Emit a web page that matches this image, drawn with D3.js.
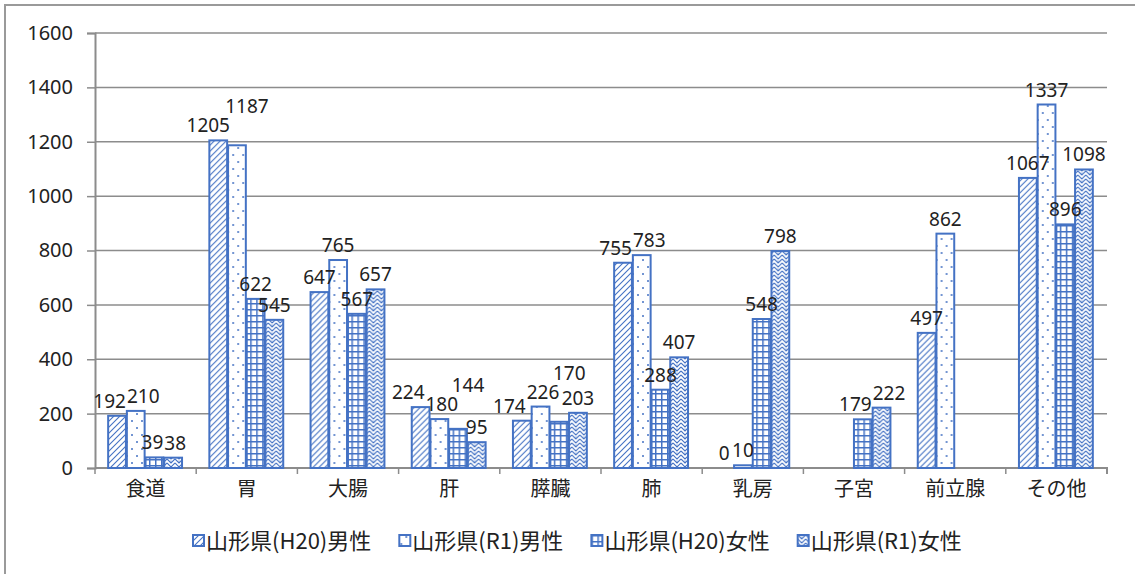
<!DOCTYPE html>
<html>
<head>
<meta charset="utf-8">
<script src="https://cdn.jsdelivr.net/npm/d3@7"></script>
<style>
  body { margin: 0; background: #fff; }
  text { font-family: "Noto Sans", "Noto Sans CJK JP", sans-serif; fill: #222; }
  .jp { font-family: "Noto Sans CJK JP", sans-serif; }
</style>
</head>
<body>
<div id="chartDiv"></div>
<script>
var categories = ["食道", "胃", "大腸", "肝", "膵臓", "肺", "乳房", "子宮", "前立腺", "その他"];
var seriesNames = ["山形県(H20)男性", "山形県(R1)男性", "山形県(H20)女性", "山形県(R1)女性"];
var h20Male   = [192, 1205, 647, 224, 174, 755, 0, null, 497, 1067];
var r1Male    = [210, 1187, 765, 180, 226, 783, 10, null, 862, 1337];
var h20Female = [39, 622, 567, 144, 170, 288, 548, 179, null, 896];
var r1Female  = [38, 545, 657, 95, 203, 407, 798, 222, null, 1098];
var yTicks = [0, 200, 400, 600, 800, 1000, 1200, 1400, 1600];

var allSeries = [h20Male, r1Male, h20Female, r1Female];
var blue = "#4472c4";

var svg = d3.select("#chartDiv").append("svg")
    .attr("width", 1135)
    .attr("height", 574);

var margin = {top: 33, right: 28, bottom: 106, left: 95};
var width = 1135 - margin.left - margin.right,
    height = 574 - margin.top - margin.bottom;

// outer chart border
svg.append("rect")
    .attr("x", 5).attr("y", 5)
    .attr("width", 1140).attr("height", 580)
    .attr("fill", "none").attr("stroke", "#9a9a9a").attr("stroke-width", 2);

// patterns
var defs = svg.append("defs");

var p0 = defs.append("pattern").attr("id", "pat0")
    .attr("patternUnits", "userSpaceOnUse").attr("width", 6).attr("height", 6);
p0.append("rect").attr("width", 6).attr("height", 6).attr("fill", "#fff");
p0.append("path").attr("d", "M-1,7 L7,-1 M-4,4 L4,-4 M2,10 L10,2")
    .attr("stroke", blue).attr("stroke-width", 1.1);

var p1 = defs.append("pattern").attr("id", "pat1")
    .attr("patternUnits", "userSpaceOnUse").attr("width", 10).attr("height", 14);
p1.append("rect").attr("width", 10).attr("height", 14).attr("fill", "#fff");
p1.append("circle").attr("cx", 2).attr("cy", 3).attr("r", 1).attr("fill", blue);
p1.append("circle").attr("cx", 7).attr("cy", 10).attr("r", 1).attr("fill", blue);

var p2 = defs.append("pattern").attr("id", "pat2")
    .attr("patternUnits", "userSpaceOnUse").attr("width", 6).attr("height", 6);
p2.append("rect").attr("width", 6).attr("height", 6).attr("fill", "#fff");
p2.append("path").attr("d", "M0,0.75 L6,0.75 M0.75,0 L0.75,6")
    .attr("stroke", blue).attr("stroke-width", 1.5);

var p3 = defs.append("pattern").attr("id", "pat3")
    .attr("patternUnits", "userSpaceOnUse").attr("width", 8).attr("height", 8);
p3.append("rect").attr("width", 8).attr("height", 8).attr("fill", "#fff");
p3.append("path").attr("d", "M0,2 L4,6 L8,2 M0,-2 L4,2 L8,-2 M0,6 L4,10 L8,6")
    .attr("fill", "none").attr("stroke", blue).attr("stroke-width", 1.1);
p3.append("circle").attr("cx", 4).attr("cy", 4).attr("r", 0.6).attr("fill", blue);

var g = svg.append("g").attr("transform", "translate(" + margin.left + "," + margin.top + ")");

var x0 = d3.scaleBand().domain(categories).range([0, width]).padding(0);
var x1 = d3.scaleBand().domain(d3.range(4))
    .range([x0.bandwidth() * 0.13, x0.bandwidth() * 0.86]).paddingInner(0.05);
var y = d3.scaleLinear().domain([0, 1600]).range([height, 0]);

// gridlines
g.append("g").selectAll("line").data(yTicks.slice(1)).enter().append("line")
    .attr("x1", 0).attr("x2", width)
    .attr("y1", function(d){ return y(d); }).attr("y2", function(d){ return y(d); })
    .attr("stroke", "#8c8c8c").attr("stroke-width", 1.5);

// y axis
var yAxis = d3.axisLeft(y).tickValues(yTicks).tickFormat(d3.format("d")).tickSize(8).tickPadding(14);
var yG = g.append("g").call(yAxis);
yG.select(".domain").attr("stroke", "#8c8c8c").attr("stroke-width", 2);
yG.selectAll(".tick line").attr("stroke", "#8c8c8c").attr("stroke-width", 1.5);
yG.selectAll(".tick text").style("font-size", "20px").attr("fill", "#222");

// x axis
var xAxis = d3.axisBottom(x0).tickSize(0).tickPadding(14);
var xG = g.append("g").attr("transform", "translate(0," + height + ")").call(xAxis);
xG.select(".domain").attr("stroke", "#8c8c8c").attr("stroke-width", 2)
    .attr("d", "M0,0H" + width + "V6");
xG.selectAll(".tick text").attr("class", "jp").style("font-size", "20px").attr("fill", "#222");
xG.append("g").selectAll("line").data(d3.range(categories.length + 1)).enter().append("line")
    .attr("x1", function(i){ return i * x0.step(); }).attr("x2", function(i){ return i * x0.step(); })
    .attr("y1", 0).attr("y2", 6)
    .attr("stroke", "#8c8c8c").attr("stroke-width", 1.5);

// bars
var groups = g.append("g").selectAll("g").data(categories).enter().append("g")
    .attr("transform", function(d){ return "translate(" + x0(d) + ",0)"; });

groups.selectAll("rect").data(function(d, i){
    return allSeries.map(function(s, k){ return {k: k, v: s[i]}; });
  }).enter().filter(function(d){ return d.v !== null; }).append("rect")
    .attr("x", function(d){ return x1(d.k); })
    .attr("y", function(d){ return y(d.v); })
    .attr("width", x1.bandwidth())
    .attr("height", function(d){ return height - y(d.v); })
    .attr("fill", function(d){ return "url(#pat" + d.k + ")"; })
    .attr("stroke", blue).attr("stroke-width", 2);

// data labels, spread sideways / upward where they would collide
groups.each(function(cat, i){
  var grp = d3.select(this);
  var labels = [];
  allSeries.forEach(function(s, k){
    if (s[i] === null) return;
    var t = grp.append("text")
        .attr("text-anchor", "middle")
        .style("font-size", "19px")
        .text(s[i]);
    labels.push({t: t, cx: x1(k) + x1.bandwidth() / 2, cy: y(s[i]) - 8,
                 w: t.node().getComputedTextLength()});
  });
  for (var pass = 0; pass < 4; pass++) {
    for (var a = 0; a < labels.length - 1; a++) {
      var L = labels[a], R = labels[a + 1];
      if (Math.abs(L.cy - R.cy) < 19) {
        var overlap = (L.cx + L.w / 2 + 1) - (R.cx - R.w / 2);
        if (overlap > 0) {
          var move = Math.min(overlap / 2, 10);
          L.cx -= move; R.cx += move;
          if (overlap / 2 > 10) R.cy = Math.min(R.cy, L.cy - 19);
        }
      }
    }
  }
  labels.forEach(function(l){ l.t.attr("x", l.cx).attr("y", l.cy); });
});

// legend
var legend = svg.append("g").attr("transform", "translate(193,541)");
var lx = 0;
seriesNames.forEach(function(name, k){
  var item = legend.append("g").attr("transform", "translate(" + lx + ",0)");
  item.append("rect").attr("x", 0).attr("y", -6).attr("width", 11).attr("height", 11)
      .attr("fill", "url(#pat" + k + ")").attr("stroke", blue).attr("stroke-width", 2);
  var t = item.append("text").attr("class", "jp").attr("x", 13).attr("y", 8)
      .style("font-size", "22px").text(name);
  lx += 13 + t.node().getComputedTextLength() + 28;
});
</script>
</body>
</html>
